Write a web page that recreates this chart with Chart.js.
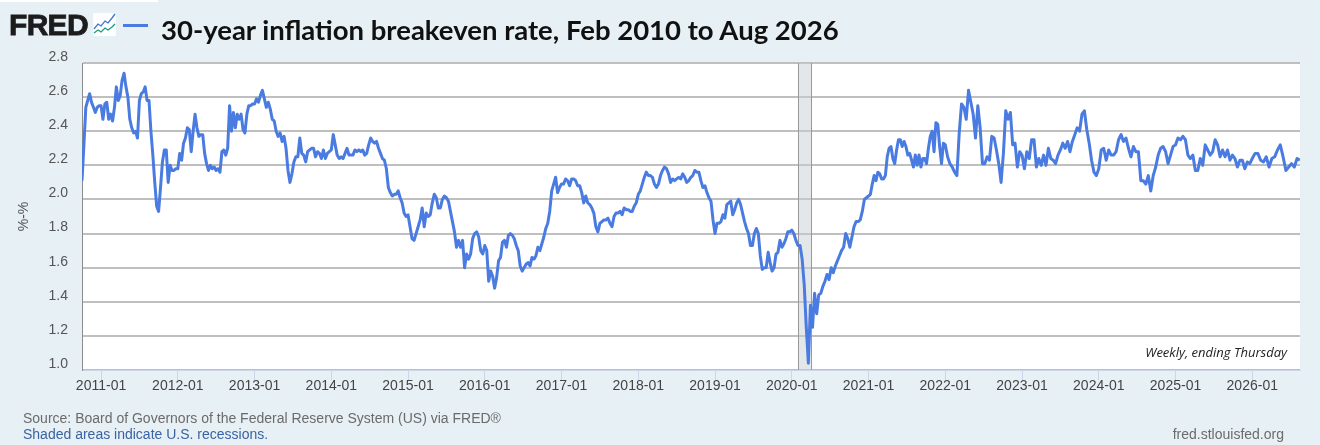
<!DOCTYPE html>
<html lang="en">
<head>
    <meta charset="UTF-8">
    <title>30-year inflation breakeven rate</title>
    <script src="https://cdn.jsdelivr.net/npm/chart.js"></script>
    <style>
        html, body { margin: 0; padding: 0; }
        body {
            width: 1320px; height: 445px; position: relative; overflow: hidden;
            background: #e7f0f5; font-family: "Liberation Sans", Arial, sans-serif;
        }
        canvas { position: absolute; left: 0; top: 0; }
        .abs { position: absolute; white-space: nowrap; }
        #topbar { left: 0; top: 0; width: 158px; height: 2px; background: #fff; }
        #logo { left: 9px; top: 8px; font-size: 30px; line-height: 34px; font-weight: 700; color: #1c1c1c; letter-spacing: -0.7px; -webkit-text-stroke: 0.8px #1c1c1c; }
        #icon { left: 93px; top: 13px; }
        #swatch { left: 123px; top: 24px; width: 25px; height: 3px; background: #4a7be0; }
        #title { left: 161px; top: 15px; font-family: Lato, sans-serif; font-weight: 700; font-size: 27.5px; line-height: 30px; color: #111; }
        #freq { right: 33px; top: 344px; font-family: "Open Sans", sans-serif; font-style: italic; font-size: 13px; line-height: 16px; color: #222; }
        .foot { font-size: 14px; line-height: 15px; color: #6b6b6b; }
        #source { left: 23px; top: 411px; }
        #shaded { left: 23px; top: 427px; color: #3a63a3; }
        #site { right: 36px; top: 427px; }
    </style>
</head>
<body>
    <canvas id="chart" width="1320" height="445"></canvas>
    <div class="abs" id="topbar"></div>
    <div class="abs" id="logo">FRED</div>
    <svg class="abs" id="icon" width="23" height="23" viewBox="0 0 23 23">
        <rect width="23" height="23" rx="2" fill="#fff"/>
        <polyline points="1,16 5,11 8,13 12,8 15,10 19,5 22,1" fill="none" stroke="#3a76d8" stroke-width="1.3"/>
        <polyline points="1,20 5,17 8,19 12,15 15,17 19,14 22,11" fill="none" stroke="#1f9a7a" stroke-width="1.3"/>
    </svg>
    <div class="abs" id="swatch"></div>
    <div class="abs" id="title">30-year inflation breakeven rate, Feb 2010 to Aug 2026</div>
    <div class="abs" id="freq">Weekly, ending Thursday</div>
    <div class="abs foot" id="source">Source: Board of Governors of the Federal Reserve System (US) via FRED®</div>
    <div class="abs foot" id="shaded">Shaded areas indicate U.S. recessions.</div>
    <div class="abs foot" id="site">fred.stlouisfed.org</div>

    <script>
        // values, one small list per calendar year
        const v2010 = [2.11, 2.32, 2.54, 2.58, 2.62, 2.57, 2.54, 2.51, 2.54, 2.55];
        const v2011 = [2.55, 2.47, 2.56, 2.57, 2.47, 2.50, 2.46, 2.54, 2.66, 2.58, 2.61, 2.70, 2.74, 2.66, 2.60, 2.47, 2.42, 2.39, 2.40, 2.36,
            2.58, 2.62, 2.63, 2.66, 2.58, 2.58, 2.40, 2.26, 2.10, 1.96, 1.93, 2.07, 2.22, 2.29, 2.29, 2.10, 2.20, 2.17, 2.17, 2.18];
        const v2012 = [2.18, 2.27, 2.23, 2.33, 2.36, 2.42, 2.41, 2.28, 2.40, 2.50, 2.42, 2.37, 2.38, 2.38, 2.27, 2.21, 2.17, 2.20, 2.18, 2.19,
            2.17, 2.18, 2.16, 2.28, 2.29, 2.26, 2.30, 2.55, 2.40, 2.51, 2.42, 2.50, 2.47, 2.50, 2.41, 2.39, 2.50, 2.55, 2.55, 2.56];
        const v2013 = [2.56, 2.59, 2.57, 2.61, 2.64, 2.59, 2.54, 2.57, 2.53, 2.47, 2.46, 2.40, 2.37, 2.39, 2.34, 2.37, 2.30, 2.17, 2.10, 2.15,
            2.22, 2.25, 2.25, 2.36, 2.27, 2.26, 2.22, 2.28, 2.29, 2.30, 2.30, 2.25, 2.28, 2.27, 2.24, 2.29, 2.24, 2.27, 2.28];
        const v2014 = [2.29, 2.38, 2.32, 2.26, 2.24, 2.25, 2.24, 2.27, 2.30, 2.26, 2.26, 2.26, 2.29, 2.28, 2.29, 2.28, 2.29, 2.26, 2.27, 2.32,
            2.36, 2.34, 2.33, 2.34, 2.30, 2.27, 2.24, 2.23, 2.18, 2.07, 2.04, 2.02, 2.03, 2.03, 2.05, 2.01, 1.98, 1.92, 1.90];
        const v2015 = [1.91, 1.84, 1.77, 1.76, 1.80, 1.84, 1.88, 1.95, 1.84, 1.92, 1.90, 1.91, 1.98, 2.03, 2.01, 1.95, 1.95, 2.00, 2.02, 2.01,
            1.99, 1.93, 1.87, 1.81, 1.72, 1.76, 1.72, 1.76, 1.60, 1.68, 1.65, 1.68, 1.77, 1.80, 1.81, 1.78, 1.70, 1.68];
        const v2016 = [1.73, 1.70, 1.52, 1.58, 1.55, 1.48, 1.54, 1.64, 1.66, 1.75, 1.76, 1.72, 1.79, 1.80, 1.79, 1.77, 1.73, 1.70, 1.61, 1.58,
            1.60, 1.62, 1.63, 1.61, 1.66, 1.65, 1.67, 1.72, 1.70, 1.74, 1.78, 1.83, 1.86, 1.93, 2.05, 2.09, 2.13, 2.04, 2.07];
        const v2017 = [2.09, 2.09, 2.12, 2.11, 2.08, 2.12, 2.12, 2.11, 2.08, 2.08, 2.04, 1.98, 2.02, 1.98, 1.97, 1.95, 1.92, 1.84, 1.81, 1.86,
            1.87, 1.88, 1.88, 1.89, 1.86, 1.84, 1.90, 1.92, 1.92, 1.93, 1.91, 1.95, 1.94, 1.94, 1.93, 1.93, 1.96, 1.98];
        const v2018 = [2.03, 2.05, 2.09, 2.13, 2.16, 2.14, 2.14, 2.13, 2.09, 2.07, 2.09, 2.14, 2.17, 2.19, 2.18, 2.15, 2.10, 2.12, 2.11, 2.12,
            2.13, 2.12, 2.15, 2.13, 2.10, 2.11, 2.13, 2.14, 2.17, 2.16, 2.16, 2.11, 2.07, 2.08, 2.04, 2.01, 1.99, 1.88];
        const v2019 = [1.80, 1.86, 1.86, 1.87, 1.91, 1.89, 1.97, 1.98, 1.99, 1.91, 1.94, 1.98, 2.00, 1.97, 1.92, 1.87, 1.83, 1.80, 1.73, 1.73,
            1.80, 1.83, 1.80, 1.67, 1.59, 1.60, 1.60, 1.69, 1.63, 1.58, 1.60, 1.68, 1.69, 1.76, 1.72, 1.74, 1.77, 1.81, 1.81];
        const v2020 = [1.82, 1.80, 1.76, 1.73, 1.73, 1.65, 1.50, 1.25, 1.04, 1.38, 1.25, 1.45, 1.33, 1.44, 1.45, 1.49, 1.52, 1.56, 1.53, 1.60,
            1.57, 1.61, 1.64, 1.67, 1.70, 1.72, 1.80, 1.77, 1.72, 1.78, 1.84, 1.87, 1.87, 1.88, 1.93, 2.00, 2.01];
        const v2021 = [2.02, 2.03, 2.09, 2.14, 2.11, 2.16, 2.15, 2.12, 2.12, 2.14, 2.25, 2.30, 2.31, 2.24, 2.21, 2.29, 2.35, 2.35, 2.31, 2.34,
            2.31, 2.26, 2.27, 2.23, 2.19, 2.26, 2.20, 2.26, 2.19, 2.24, 2.24, 2.21, 2.30, 2.37, 2.40, 2.28, 2.45, 2.44, 2.31, 2.21, 2.33];
        const v2022 = [2.32, 2.25, 2.21, 2.19, 2.16, 2.14, 2.39, 2.56, 2.54, 2.47, 2.64, 2.57, 2.50, 2.36, 2.55, 2.42, 2.21, 2.21, 2.25, 2.23,
            2.37, 2.36, 2.29, 2.21, 2.10, 2.27, 2.52, 2.47, 2.51, 2.32, 2.33, 2.19, 2.28];
        const v2023 = [2.26, 2.18, 2.28, 2.24, 2.35, 2.35, 2.19, 2.24, 2.20, 2.26, 2.20, 2.30, 2.24, 2.23, 2.21, 2.26, 2.29, 2.33, 2.30, 2.34,
            2.28, 2.34, 2.38, 2.42, 2.40, 2.50, 2.52, 2.41, 2.33, 2.23, 2.16, 2.14];
        const v2024 = [2.18, 2.29, 2.30, 2.23, 2.29, 2.26, 2.26, 2.28, 2.35, 2.38, 2.34, 2.36, 2.30, 2.25, 2.31, 2.28, 2.28, 2.11, 2.11, 2.09,
            2.14, 2.05, 2.14, 2.19, 2.26, 2.30, 2.31, 2.28, 2.21, 2.26, 2.31];
        const v2025 = [2.32, 2.36, 2.35, 2.37, 2.35, 2.26, 2.24, 2.26, 2.17, 2.17, 2.24, 2.20, 2.32, 2.29, 2.26, 2.28, 2.35, 2.32, 2.25, 2.29,
            2.25, 2.29, 2.23, 2.26, 2.24, 2.19, 2.23, 2.23, 2.18, 2.22, 2.21];
        const v2026 = [2.24, 2.27, 2.27, 2.23, 2.22, 2.25, 2.19, 2.24, 2.25, 2.29, 2.32, 2.25, 2.17, 2.19, 2.21, 2.19, 2.24, 2.23];

        const yearValues = [v2010, v2011, v2012, v2013, v2014, v2015, v2016, v2017, v2018, v2019, v2020, v2021, v2022, v2023, v2024, v2025, v2026];
        const yearStarts = [2010.752, 2011, 2012, 2013, 2014, 2015, 2016, 2017, 2018, 2019, 2020, 2021, 2022, 2023, 2024, 2025, 2026, 2026.657];
        const xMin = 2010.752;
        const xMax = 2026.622;

        const tickLabels = ['2011-01', '2012-01', '2013-01', '2014-01', '2015-01', '2016-01', '2017-01', '2018-01',
            '2019-01', '2020-01', '2021-01', '2022-01', '2023-01', '2024-01', '2025-01', '2026-01'];
        const yTicks = [1.0, 1.2, 1.4, 1.6, 1.8, 2.0, 2.2, 2.4, 2.6, 2.8];
        const recessionStart = 2020.08;
        const recessionEnd = 2020.25;

        const points = [];
        yearValues.forEach((vals, n) => {
            const step = (yearStarts[n + 1] - yearStarts[n]) / vals.length;
            vals.forEach((v, i) => points.push({ x: yearStarts[n] + i * step, y: v }));
        });

        // white plot background
        const plotBack = {
            id: 'plotBack',
            beforeDraw(chart) {
                const a = chart.chartArea;
                chart.ctx.fillStyle = '#fff';
                chart.ctx.fillRect(a.left, a.top, a.right - a.left, a.bottom - a.top);
            }
        };

        // recession band with its two grey edges
        const recession = {
            id: 'recession',
            beforeDatasetsDraw(chart) {
                const a = chart.chartArea, ctx = chart.ctx;
                const x0 = Math.round(chart.scales.x.getPixelForValue(recessionStart)) + 0.5;
                const x1 = Math.round(chart.scales.x.getPixelForValue(recessionEnd)) + 0.5;
                ctx.save();
                ctx.fillStyle = 'rgba(200,208,214,0.5)';
                ctx.fillRect(x0, a.top, x1 - x0, a.bottom - a.top);
                ctx.strokeStyle = '#999';
                ctx.lineWidth = 1;
                ctx.beginPath();
                ctx.moveTo(x0, a.top); ctx.lineTo(x0, a.bottom);
                ctx.moveTo(x1, a.top); ctx.lineTo(x1, a.bottom);
                ctx.stroke();
                ctx.restore();
            }
        };

        new Chart(document.getElementById('chart'), {
            type: 'line',
            data: {
                datasets: [{
                    label: '30-year inflation breakeven rate',
                    data: points,
                    borderColor: '#4a7be0',
                    borderWidth: 3,
                    pointRadius: 0,
                    tension: 0,
                    borderJoinStyle: 'round'
                }]
            },
            options: {
                responsive: false,
                animation: false,
                devicePixelRatio: 1,
                layout: { autoPadding: false, padding: { left: 0, top: 63, right: 20, bottom: 0 } },
                plugins: { legend: { display: false }, tooltip: { enabled: false } },
                scales: {
                    x: {
                        type: 'linear',
                        min: xMin,
                        max: xMax,
                        afterFit(s) { s.height = 75; },
                        afterBuildTicks(s) { s.ticks = tickLabels.map(l => ({ value: parseInt(l), label: l })); },
                        grid: { drawOnChartArea: false, drawTicks: true, tickLength: 10, color: '#ccd6eb' },
                        border: { color: '#ccd6eb', width: 1 },
                        ticks: {
                            autoSkip: false, maxRotation: 0, padding: -2, color: '#444',
                            font: { family: '"Liberation Sans", Arial, sans-serif', size: 14 },
                            callback: v => tickLabels.find(l => parseInt(l) === v)
                        }
                    },
                    y: {
                        min: 1.0,
                        max: 2.8,
                        afterFit(s) { s.width = 82; },
                        afterBuildTicks(s) { s.ticks = yTicks.map(v => ({ value: v })); },
                        grid: { color: '#bfbfbf', lineWidth: 2, drawTicks: false },
                        border: { color: '#8c8c8c', width: 1 },
                        title: {
                            display: true, text: '%-%', color: '#555', padding: { top: 16, bottom: 0 },
                            font: { family: '"Liberation Sans", Arial, sans-serif', size: 14 }
                        },
                        ticks: {
                            padding: 14, color: '#555', labelOffset: -6,
                            font: { family: '"Liberation Sans", Arial, sans-serif', size: 14 },
                            callback: v => v.toFixed(1)
                        }
                    }
                }
            },
            plugins: [plotBack, recession]
        });
    </script>
</body>
</html>
